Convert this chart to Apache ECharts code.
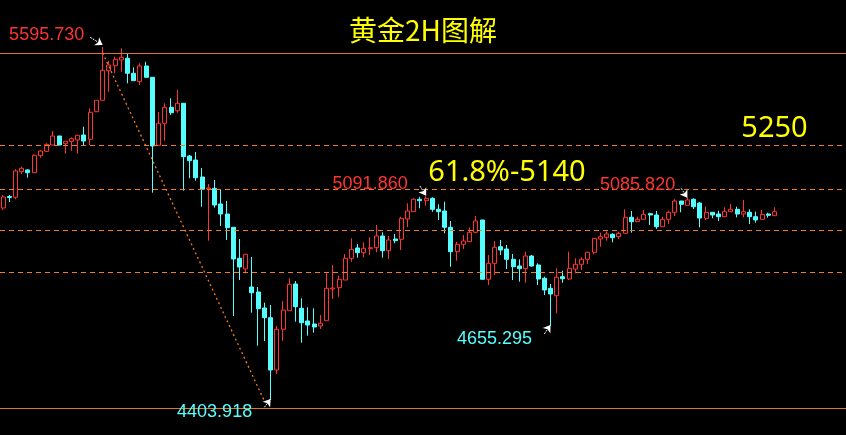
<!DOCTYPE html>
<html><head><meta charset="utf-8">
<script src="https://cdn.jsdelivr.net/npm/echarts@6/dist/echarts.min.js"></script>
<style>html,body{margin:0;padding:0;background:#000;}#c{width:846px;height:435px;}</style>
</head><body><div id="c"></div>
<script>
// Gold 2H bars: open / close / low / high
const openPrices = [5052.2,5091.0,5088.3,5174.7,5180.5,5171.4,5228.8,5243.6,5264.9,5295.3,
5269.3,5277.4,5281.8,5298.6,5284.1,5377.3,5415.8,5515.7,5532.6,5551.8,
5557.6,5506.9,5478.6,5531.6,5493.4,5263.9,5338.1,5392.2,5380.7,5405.7,
5227.7,5214.2,5156.9,5116.3,5118.7,5065.7,5031.9,4987.0,4882.4,4846.3,
4785.5,4768.6,4714.6,4681.8,4505.3,4642.7,4705.5,4795.6,4713.6,4670.7,
4660.6,4653.8,4671.7,4778.7,4783.1,4809.1,4882.4,4917.2,4901.3,4914.8,
4918.2,4957.7,4908.0,4947.5,4946.5,5015.1,5039.7,5081.6,5076.8,5084.9,
5047.8,5042.1,4987.0,4904.7,4929.6,4938.4,4970.2,5011.7,4811.5,4865.5,
4921.5,4913.8,4879.0,4856.4,4847.3,4890.1,4859.8,4814.9,4781.1,4756.1,
4820.3,4812.5,4846.3,4862.1,4879.0,4902.6,4947.5,4953.3,4963.4,4955.3,
4966.8,5020.8,5005.9,5014.0,5033.0,5028.6,4989.1,5014.0,5037.7,5075.8,
5061.3,5081.6,5069.1,5017.4,5037.7,5031.9,5022.8,5039.7,5047.8,5031.9,
5037.7,5022.8,5014.0,5031.9,5026.2];
const closePrices = [5089.3,5087.6,5177.1,5186.2,5171.4,5230.1,5244.6,5267.2,5295.3,5264.9,
5277.4,5286.2,5297.6,5278.4,5375.3,5415.8,5517.1,5535.0,5554.2,5561.0,
5506.9,5482.0,5531.6,5493.4,5261.5,5338.1,5392.2,5373.9,5405.7,5225.4,
5211.9,5154.5,5115.3,5119.7,5062.3,5031.9,4985.7,4880.0,4853.0,4895.9,
4766.2,4712.2,4681.8,4505.3,4642.7,4707.8,4794.6,4719.0,4665.0,4657.2,
4650.5,4662.9,4781.1,4782.1,4811.5,4882.4,4912.8,4901.3,4916.1,4918.2,
4957.7,4908.0,4944.2,4941.8,5017.4,5042.1,5081.6,5076.8,5084.9,5047.8,
5039.7,4987.0,4904.7,4929.6,4940.8,4970.2,5008.3,4811.5,4865.5,4919.5,
4910.4,4879.0,4854.0,4847.3,4890.1,4856.4,4812.5,4775.4,4761.9,4818.2,
4813.5,4848.6,4862.1,4879.0,4902.6,4949.9,4955.3,4964.4,4951.9,4966.8,
5020.8,5005.9,5014.0,5030.9,5028.6,4989.1,5014.0,5037.7,5075.8,5064.7,
5079.2,5056.6,5018.4,5037.7,5028.6,5022.8,5039.7,5047.8,5031.9,5039.7,
5022.8,5011.7,5030.9,5027.6,5039.7];
const lowPrices = [5045.4,5072.4,5081.6,5167.0,5154.5,5171.4,5222.0,5241.3,5264.9,5264.9,
5235.5,5245.6,5235.5,5264.9,5264.9,5377.3,5415.8,5444.8,5506.9,5512.3,
5473.2,5482.0,5467.4,5493.4,5103.8,5263.9,5279.4,5366.2,5373.9,5110.6,
5152.5,5144.4,5056.6,4941.8,5053.2,4991.4,4944.2,4687.6,4809.1,4831.7,
4698.7,4587.3,4603.2,4403.918,4491.8,4604.2,4705.5,4668.3,4597.4,4621.1,
4631.2,4643.7,4671.7,4745.0,4752.7,4809.1,4870.9,4884.4,4885.8,4893.5,
4902.6,4884.4,4880.0,4933.0,4910.4,4987.0,5039.7,5051.2,5060.0,5039.7,
5011.7,4966.8,4854.0,4874.3,4913.8,4938.4,4966.8,4811.5,4792.2,4826.0,
4893.5,4846.3,4809.1,4803.4,4800.0,4854.0,4792.2,4758.5,4655.295,4696.7,
4800.0,4809.1,4831.7,4842.9,4863.1,4895.9,4921.5,4941.8,4936.4,4947.5,
4966.8,4968.8,5005.9,5014.0,4994.8,4981.3,4989.1,4998.2,5025.2,5037.7,
5061.3,5048.8,4987.0,5011.7,5017.4,5008.3,5022.8,5039.7,5020.8,5020.8,
4998.2,5002.6,5014.0,5019.4,5026.2];
const highPrices = [5096.1,5096.1,5182.8,5191.6,5182.8,5233.5,5248.0,5270.6,5312.1,5295.3,
5277.4,5290.9,5297.6,5326.7,5388.8,5415.8,5595.73,5548.5,5563.0,5591.3,
5572.1,5527.2,5540.7,5546.1,5493.4,5376.3,5405.7,5422.5,5450.6,5405.7,
5231.1,5241.3,5187.2,5133.2,5146.7,5113.0,5075.8,4987.0,4947.5,4895.9,
4886.8,4785.5,4732.5,4724.7,4653.8,4738.2,4814.9,4805.7,4747.3,4717.0,
4713.6,4691.0,4831.7,4859.8,4823.6,4896.9,4949.9,4930.7,4936.4,4953.3,
4994.8,4970.2,4957.7,4964.4,5022.8,5068.1,5084.9,5090.0,5091.86,5088.3,
5064.7,5073.5,5008.3,4938.4,4961.0,4987.0,5025.2,5011.7,4893.5,4940.8,
4944.2,4927.3,4896.9,4879.0,4904.7,4893.5,4865.5,4820.3,4795.6,4848.6,
4840.5,4904.7,4882.4,4885.8,4904.7,4949.9,4968.8,4972.2,4966.8,4972.2,
5047.8,5042.1,5022.8,5045.4,5036.3,5042.1,5022.8,5043.1,5081.6,5075.8,
5085.82,5084.9,5071.4,5057.3,5037.7,5043.1,5054.6,5065.7,5056.6,5079.2,
5047.8,5039.7,5045.4,5036.3,5054.6];

// Horizontal levels
const solidLevels = [5575.5, 4377.0];
const dashedLevels = [5264.9, 5115.3, 4977.9, 4835.1];
// trend line from the high to the low: [barIndex, price]
const trendLine = [[16.08, 5575.5], [41.5, 4400.6]];
// price tags
const tagTexts = ['5595.730', '5091.860', '5085.820', '4403.918', '4655.295'];
const tagColors = ['#ff3434', '#ff3434', '#ff3434', '#55ffff', '#55ffff'];
const tagAnchors = [[6.75, 5636.2], [59.45, 5133.9], [101.5, 5128.8], [34.49, 4362.8], [79.05, 4610.6]];
// arrows to the tagged bars
const arrowStarts = [[14.37, 5628.5], [66.5, 5126.5], [108.64, 5118.7], [41.58, 4379.3], [86.62, 4626.8]];
const arrowEnds = [[15.97, 5602.5], [68.1, 5093.7], [110.24, 5087.0], [43.02, 4407.4], [88.11, 4657.2]];
// yellow target notes
const noteTexts = ['61.8%-5140', '5250'];
const noteAnchors = [[80.95, 5172.0], [124.2, 5318.2]];

const slotCount = 136;
const categories = Array.from({length: slotCount}, (_, i) => String(i + 1));
const candleData = openPrices.map((o, i) => [o, closePrices[i], lowPrices[i], highPrices[i]]);

const orange = '#f07c1c';
const lineData = [];
solidLevels.forEach(v => lineData.push({yAxis: v, lineStyle: {color: '#e0782a', type: 'solid', width: 1}}));
dashedLevels.forEach(v => lineData.push({yAxis: v, lineStyle: {color: orange, type: [5, 4], width: 1}}));
lineData.push([{coord: trendLine[0], symbol: 'none'}, {coord: trendLine[1], symbol: 'none', lineStyle: {color: orange, type: [2, 3], width: 1.3}}]);
arrowStarts.forEach((s, i) => lineData.push([
  {coord: s, symbol: 'none'},
  {coord: arrowEnds[i], symbol: 'arrow', symbolSize: 7, lineStyle: {color: '#ffffff', type: [2, 1], width: 1}, itemStyle: {color: '#ffffff'}}
]));

const pointData = [];
tagTexts.forEach((t, i) => pointData.push({
  name: t, coord: tagAnchors[i],
  label: {color: tagColors[i], fontSize: 18, fontFamily: 'Liberation Sans'}
}));
noteTexts.forEach((t, i) => pointData.push({
  name: t, coord: noteAnchors[i],
  label: {color: '#ffff00', fontSize: 29, fontFamily: 'Noto Sans'}
}));

const chart = echarts.init(document.getElementById('c'), null, {renderer: 'canvas'});
chart.setOption({
  backgroundColor: '#000000',
  animation: false,
  title: {
    text: '黄金2H图解', left: 'center', top: 11,
    textStyle: {color: '#ffff00', fontSize: 28, fontWeight: 'normal', fontFamily: 'Noto Sans CJK SC'}
  },
  grid: {left: -3.624, top: 0, width: 849.73, bottom: 0, containLabel: false},
  xAxis: {type: 'category', data: categories, boundaryGap: true, show: false},
  yAxis: {type: 'value', min: 4285.84, max: 5754.4, show: false, splitLine: {show: false}, scale: true},
  series: [{
    type: 'candlestick',
    data: candleData,
    barWidth: 4.5,
    itemStyle: {color: '#000000', color0: '#55ffff', borderColor: '#ff3434', borderColor0: '#55ffff', borderWidth: 1},
    markLine: {silent: true, symbol: ['none', 'none'], label: {show: false}, animation: false, data: lineData},
    markPoint: {
      silent: true, symbol: 'rect', symbolSize: 1, itemStyle: {color: 'rgba(0,0,0,0)'},
      label: {show: true, position: 'inside', formatter: p => p.name},
      data: pointData
    }
  }]
});
</script></body></html>
